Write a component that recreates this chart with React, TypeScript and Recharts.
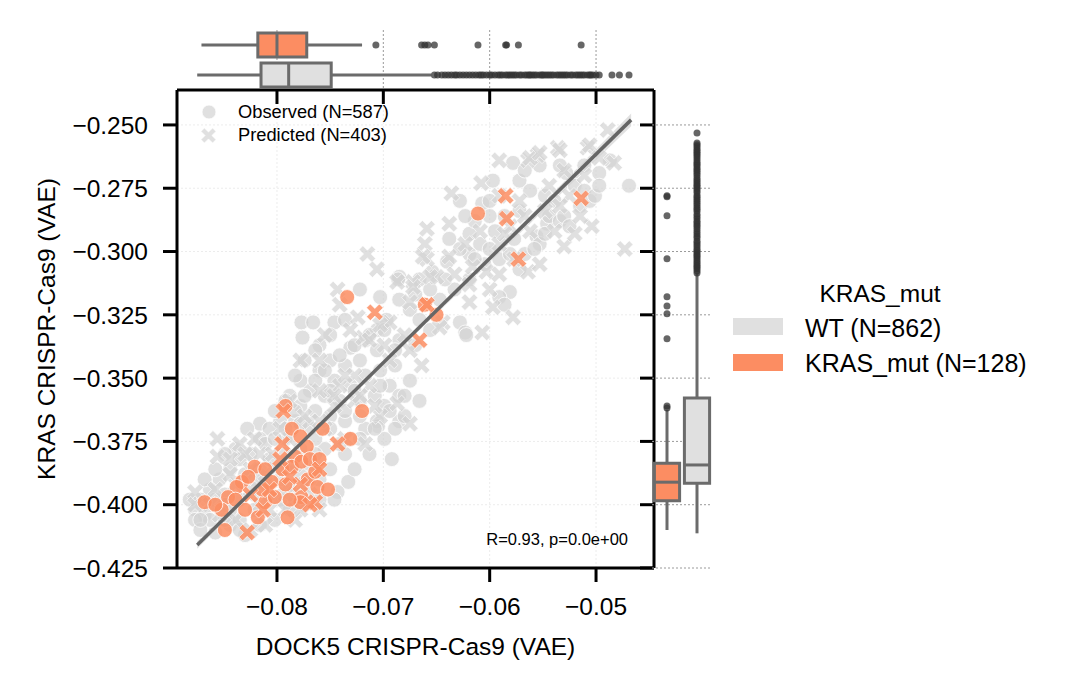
import React from "react";
import {
  ComposedChart,
  Scatter,
  Area,
  XAxis,
  YAxis,
  CartesianGrid,
  ReferenceArea,
  ReferenceLine,
} from "recharts";

const FONT = '"Liberation Sans", Arial, Helvetica, sans-serif';
const GREY = "#d3d3d3";
const ORANGE = "#fc8d62";
const BOX_LINE = "#6b6b6b";
const FS = 24.5;

const xTicks = [-0.08, -0.07, -0.06, -0.05];
const yTicks = [-0.25, -0.275, -0.3, -0.325, -0.35, -0.375, -0.4, -0.425];
const xDomain = [-0.0894, -0.04455];
const yDomain = [-0.425, -0.2362];

// [DOCK5, KRAS] pairs, WT observed
const wtObserved: [number, number][] = [
  [-0.0469, -0.274], [-0.0578, -0.265], [-0.0528, -0.269], [-0.0497, -0.269], [-0.0597, -0.272],
  [-0.0607, -0.281], [-0.06, -0.28], [-0.064, -0.304], [-0.0654, -0.308], [-0.0666, -0.311],
  [-0.0685, -0.31], [-0.0581, -0.316], [-0.0591, -0.318], [-0.0628, -0.328], [-0.0623, -0.332],
  [-0.0546, -0.289], [-0.0544, -0.286], [-0.0534, -0.288], [-0.0556, -0.294], [-0.0553, -0.297],
  [-0.0572, -0.272], [-0.0562, -0.276], [-0.0548, -0.278], [-0.0539, -0.28], [-0.052, -0.274],
  [-0.0511, -0.276], [-0.0572, -0.284], [-0.0586, -0.286], [-0.0595, -0.292], [-0.0577, -0.295],
  [-0.0567, -0.301], [-0.0591, -0.303], [-0.0609, -0.297], [-0.0619, -0.293], [-0.0515, -0.282],
  [-0.0506, -0.28], [-0.0619, -0.311], [-0.0633, -0.315], [-0.0647, -0.319], [-0.0586, -0.321],
  [-0.0572, -0.307], [-0.0534, -0.266], [-0.0553, -0.266], [-0.0567, -0.268], [-0.0487, -0.264],
  [-0.0511, -0.266], [-0.0605, -0.305], [-0.0619, -0.301],
  [-0.0638, -0.295], [-0.0628, -0.299], [-0.0614, -0.303], [-0.06, -0.299], [-0.0581, -0.301],
  [-0.0558, -0.299], [-0.0548, -0.293], [-0.053, -0.286], [-0.0525, -0.29], [-0.0501, -0.278],
  [-0.0497, -0.274], [-0.06, -0.286], [-0.0614, -0.288], [-0.0623, -0.286], [-0.0628, -0.28],
  [-0.0656, -0.315], [-0.0642, -0.311], [-0.067, -0.317],
  [-0.0722, -0.315], [-0.0686, -0.311], [-0.0703, -0.318], [-0.0777, -0.328], [-0.0766, -0.328],
  [-0.0746, -0.328], [-0.0736, -0.327], [-0.0706, -0.331], [-0.0697, -0.327], [-0.0731, -0.338],
  [-0.0776, -0.334], [-0.0706, -0.339], [-0.0622, -0.333], [-0.0706, -0.367], [-0.0705, -0.369],
  [-0.0717, -0.37], [-0.0692, -0.382], [-0.0717, -0.335], [-0.0685, -0.319], [-0.0675, -0.323],
  [-0.0666, -0.327], [-0.0656, -0.331], [-0.0685, -0.335], [-0.067, -0.337], [-0.0722, -0.343],
  [-0.0736, -0.345], [-0.075, -0.343], [-0.076, -0.347], [-0.0746, -0.351], [-0.0731, -0.353],
  [-0.0717, -0.349], [-0.0703, -0.347], [-0.0689, -0.345], [-0.0694, -0.353], [-0.0708, -0.357],
  [-0.0722, -0.359], [-0.0741, -0.359], [-0.0755, -0.357], [-0.0769, -0.355], [-0.0764, -0.363],
  [-0.075, -0.365], [-0.0778, -0.361], [-0.0783, -0.367], [-0.0769, -0.37], [-0.0736, -0.367],
  [-0.0722, -0.365], [-0.0699, -0.361], [-0.0685, -0.357], [-0.0675, -0.351], [-0.0666, -0.359],
  [-0.0685, -0.367], [-0.0733, -0.391], [-0.0743, -0.395], [-0.0746, -0.398], [-0.0727, -0.386],
  [-0.0713, -0.38], [-0.0736, -0.38], [-0.0755, -0.378], [-0.0699, -0.374], [-0.0689, -0.37],
  [-0.068, -0.365], [-0.0778, -0.351], [-0.0788, -0.357], [-0.076, -0.337], [-0.0797, -0.367],
  [-0.0792, -0.359], [-0.0802, -0.363], [-0.0783, -0.349], [-0.0774, -0.343], [-0.0764, -0.339],
  [-0.075, -0.333], [-0.0816, -0.368],
  [-0.0792, -0.37], [-0.0783, -0.363], [-0.0774, -0.357], [-0.0764, -0.351], [-0.0755, -0.347],
  [-0.0741, -0.341], [-0.0727, -0.337], [-0.0713, -0.333], [-0.0699, -0.331], [-0.0689, -0.339],
  [-0.0727, -0.355], [-0.0736, -0.363], [-0.075, -0.37], [-0.0764, -0.374], [-0.0741, -0.376],
  [-0.0722, -0.374], [-0.0708, -0.37], [-0.0694, -0.363], [-0.068, -0.357], [-0.0703, -0.353],
  [-0.075, -0.355], [-0.0778, -0.368], [-0.0792, -0.374], [-0.0807, -0.37], [-0.0816, -0.374],
  [-0.0828, -0.37], [-0.0839, -0.378], [-0.0825, -0.38], [-0.0811, -0.376], [-0.0802, -0.374],
  [-0.0816, -0.386], [-0.083, -0.388], [-0.0844, -0.386], [-0.0854, -0.39], [-0.0863, -0.394],
  [-0.0849, -0.396], [-0.0872, -0.398], [-0.0877, -0.402], [-0.0868, -0.404], [-0.0858, -0.411],
  [-0.0844, -0.408], [-0.0835, -0.406], [-0.0849, -0.4], [-0.0858, -0.398], [-0.0821, -0.396],
  [-0.0811, -0.392], [-0.0797, -0.39], [-0.0788, -0.394], [-0.0778, -0.388], [-0.0769, -0.384],
  [-0.076, -0.39], [-0.0774, -0.4], [-0.0788, -0.402], [-0.0802, -0.406], [-0.0816, -0.408],
  [-0.083, -0.412], [-0.0807, -0.382], [-0.0792, -0.38], [-0.0778, -0.378], [-0.0764, -0.38],
  [-0.0835, -0.398], [-0.0844, -0.402], [-0.0863, -0.406], [-0.0877, -0.406], [-0.0872, -0.41],
  [-0.0821, -0.402], [-0.0797, -0.398], [-0.076, -0.398], [-0.075, -0.386],
  [-0.0868, -0.39], [-0.0858, -0.386], [-0.0835, -0.382], [-0.0849, -0.38], [-0.0821, -0.39],
  [-0.0807, -0.396], [-0.0792, -0.386], [-0.0783, -0.398], [-0.0769, -0.39], [-0.0849, -0.406],
  [-0.0835, -0.41], [-0.0882, -0.398], [-0.0872, -0.406],
];

// WT predicted
const wtPredicted: [number, number][] = [
  [-0.0489, -0.252], [-0.0508, -0.259], [-0.0483, -0.265], [-0.0536, -0.259], [-0.0555, -0.262],
  [-0.0564, -0.264], [-0.0591, -0.264], [-0.0636, -0.277], [-0.0608, -0.273], [-0.0473, -0.299],
  [-0.0504, -0.29], [-0.053, -0.298], [-0.0564, -0.308], [-0.0578, -0.326], [-0.0607, -0.332],
  [-0.0659, -0.291], [-0.0638, -0.289], [-0.0661, -0.297], [-0.0659, -0.303], [-0.0638, -0.302],
  [-0.0616, -0.306], [-0.0603, -0.308], [-0.0672, -0.312], [-0.065, -0.31], [-0.0675, -0.32],
  [-0.06, -0.315], [-0.0619, -0.32], [-0.0597, -0.322], [-0.0644, -0.328], [-0.0562, -0.263],
  [-0.0553, -0.261], [-0.0534, -0.26], [-0.0506, -0.258], [-0.0497, -0.263], [-0.0591, -0.278],
  [-0.0572, -0.28], [-0.0544, -0.274], [-0.0525, -0.278], [-0.0515, -0.286], [-0.0548, -0.284],
  [-0.0581, -0.29], [-0.0562, -0.292], [-0.0539, -0.292], [-0.052, -0.293], [-0.0591, -0.297],
  [-0.0577, -0.303], [-0.0553, -0.305], [-0.0623, -0.297], [-0.0633, -0.309],
  [-0.0609, -0.292], [-0.0586, -0.293], [-0.0567, -0.286], [-0.0534, -0.282], [-0.0511, -0.27],
  [-0.053, -0.268], [-0.0619, -0.313], [-0.0591, -0.309],
  [-0.0715, -0.301], [-0.0706, -0.307], [-0.0743, -0.315], [-0.0687, -0.312], [-0.0672, -0.314],
  [-0.0656, -0.31], [-0.0663, -0.302], [-0.0724, -0.326], [-0.0719, -0.334], [-0.0694, -0.328],
  [-0.0675, -0.339], [-0.0664, -0.345], [-0.0687, -0.36], [-0.0647, -0.33], [-0.0741, -0.321],
  [-0.0731, -0.331], [-0.0755, -0.333], [-0.0713, -0.335], [-0.0699, -0.337], [-0.0727, -0.349],
  [-0.0741, -0.353], [-0.0713, -0.353], [-0.076, -0.355], [-0.0746, -0.361], [-0.0727, -0.359],
  [-0.0703, -0.365], [-0.0769, -0.367], [-0.0755, -0.37], [-0.0736, -0.374], [-0.0717, -0.376],
  [-0.0675, -0.368], [-0.0788, -0.374],
  [-0.0778, -0.343], [-0.076, -0.343], [-0.0736, -0.349], [-0.0722, -0.357], [-0.0708, -0.361],
  [-0.0788, -0.359], [-0.0774, -0.365], [-0.076, -0.367], [-0.0746, -0.357], [-0.0694, -0.343],
  [-0.068, -0.333], [-0.0703, -0.329],
  [-0.0856, -0.374], [-0.0856, -0.381], [-0.0877, -0.395], [-0.0844, -0.382], [-0.0835, -0.376],
  [-0.0821, -0.374], [-0.0816, -0.38], [-0.0797, -0.37], [-0.0839, -0.392], [-0.0825, -0.394],
  [-0.0811, -0.388], [-0.0802, -0.386], [-0.0783, -0.384], [-0.0774, -0.392], [-0.0792, -0.396],
  [-0.0854, -0.404], [-0.0839, -0.406], [-0.0825, -0.41], [-0.0816, -0.4], [-0.0807, -0.402],
  [-0.0783, -0.406], [-0.0769, -0.396], [-0.076, -0.402], [-0.0877, -0.4], [-0.0863, -0.4],
  [-0.0804, -0.38], [-0.083, -0.38], [-0.0844, -0.388], [-0.0858, -0.394], [-0.0825, -0.386],
  [-0.0792, -0.402], [-0.0811, -0.408], [-0.0778, -0.402],
];

// KRAS_mut observed
const mutObserved: [number, number][] = [
  [-0.0611, -0.285], [-0.0734, -0.318], [-0.0661, -0.321], [-0.065, -0.325], [-0.072, -0.363],
  [-0.0792, -0.361], [-0.0786, -0.37], [-0.0778, -0.373], [-0.0757, -0.37], [-0.0731, -0.374],
  [-0.0772, -0.377], [-0.0783, -0.381], [-0.0821, -0.385], [-0.0833, -0.391], [-0.0838, -0.393],
  [-0.0846, -0.397], [-0.0868, -0.399], [-0.0852, -0.402], [-0.0849, -0.41], [-0.083, -0.402],
  [-0.0811, -0.399], [-0.0802, -0.397], [-0.079, -0.405], [-0.0777, -0.397], [-0.0771, -0.39],
  [-0.0764, -0.387], [-0.0762, -0.393], [-0.0752, -0.394], [-0.0778, -0.399], [-0.0805, -0.391],
  [-0.0795, -0.386], [-0.0786, -0.385], [-0.0777, -0.383], [-0.0818, -0.405], [-0.0827, -0.389],
  [-0.0814, -0.394], [-0.0792, -0.392], [-0.0769, -0.382], [-0.076, -0.382], [-0.0839, -0.398],
  [-0.0858, -0.4], [-0.0788, -0.398], [-0.0811, -0.386],
];

// KRAS_mut predicted
const mutPredicted: [number, number][] = [
  [-0.0585, -0.278], [-0.0584, -0.287], [-0.0514, -0.279], [-0.0573, -0.303], [-0.0708, -0.324],
  [-0.0659, -0.321], [-0.0666, -0.335], [-0.0794, -0.363], [-0.0743, -0.376], [-0.0828, -0.411],
  [-0.0764, -0.399], [-0.0795, -0.376], [-0.0813, -0.402], [-0.0797, -0.382], [-0.0778, -0.392],
  [-0.076, -0.386], [-0.0825, -0.396], [-0.0788, -0.389], [-0.0807, -0.394], [-0.0769, -0.4],
];

const regLine = [
  { x: -0.0875, y: -0.4159 },
  { x: -0.0467, y: -0.248 },
];

const ciBand = [
  { x: -0.0875, band: [-0.4174, -0.4144] },
  { x: -0.075, band: [-0.3653, -0.3639] },
  { x: -0.06, band: [-0.3043, -0.3019] },
  { x: -0.0467, band: [-0.2505, -0.2455] },
];

// box stats: whisker low, q1, median, q3, whisker high
const xBoxWT = [-0.0875, -0.0815, -0.0789, -0.0749, -0.0655];
const xBoxMut = [-0.0871, -0.0818, -0.08, -0.0772, -0.072];
const yBoxWT = [-0.4113, -0.3915, -0.3843, -0.3579, -0.3086];
const yBoxMut = [-0.41, -0.3984, -0.3911, -0.3836, -0.3626];

const xOutWT = [
  -0.0652, -0.0649, -0.0645, -0.0642, -0.0639, -0.0636, -0.0633, -0.0631, -0.0628, -0.0625,
  -0.0622, -0.0619, -0.0616, -0.0613, -0.061, -0.0608, -0.0606, -0.0603, -0.06, -0.0598,
  -0.0595, -0.0592, -0.059, -0.0588, -0.0585, -0.0583, -0.0581, -0.0579, -0.0577, -0.0575,
  -0.0572, -0.057, -0.0567, -0.0565, -0.0563, -0.0562, -0.056, -0.0558, -0.0556, -0.0553,
  -0.0551, -0.055, -0.0548, -0.0546, -0.0544, -0.0542, -0.054, -0.0537, -0.0535, -0.0533,
  -0.0531, -0.0529, -0.0527, -0.0524, -0.0522, -0.0519, -0.0517, -0.0515, -0.0513, -0.0511,
  -0.0508, -0.0506, -0.0505, -0.0503, -0.05, -0.0497, -0.0485, -0.0478, -0.0469,
];
const xOutMut = [-0.0707, -0.0664, -0.0661, -0.0658, -0.0652, -0.0611, -0.0585, -0.0584, -0.0573, -0.0514];
const yOutWT = [
  -0.2532, -0.2571, -0.2578, -0.2585, -0.2594, -0.2601, -0.2608, -0.2615, -0.2622, -0.263,
  -0.2638, -0.2647, -0.2654, -0.266, -0.2669, -0.2676, -0.2683, -0.2691, -0.2699, -0.2709,
  -0.2716, -0.2723, -0.2731, -0.2738, -0.2744, -0.2752, -0.276, -0.2768, -0.2779, -0.2786,
  -0.2794, -0.2801, -0.2809, -0.2817, -0.2826, -0.2833, -0.2841, -0.2853, -0.2862, -0.2871,
  -0.288, -0.2887, -0.2895, -0.2902, -0.2911, -0.2921, -0.293, -0.2939, -0.2947, -0.2958,
  -0.2965, -0.2973, -0.2981, -0.299, -0.2997, -0.3004, -0.3012, -0.3018, -0.3025, -0.3032,
  -0.304, -0.3047, -0.3055, -0.3061, -0.3068, -0.3076, -0.3085,
];
const yOutMut = [-0.361, -0.3618, -0.3345, -0.3246, -0.3215, -0.3179, -0.3029, -0.2859, -0.2784, -0.278];

const fmt = (d: number) => (v: number) => (v < 0 ? "\u2212" : "") + Math.abs(v).toFixed(d);
const toPts = (arr: [number, number][]) => arr.map(([x, y]) => ({ x, y }));

const circleShape = (fill: string, opacity: number, r = 7.5) => (p: any) => (
  <circle cx={p.cx} cy={p.cy} r={r} fill={fill} fillOpacity={opacity} stroke="#fff" strokeWidth={0.8} />
);

function xPolygon(cx: number, cy: number, half = 8.3, arm = 2.7) {
  const L = half * Math.SQRT2 - arm;
  const raw = [
    [arm, L], [arm, arm], [L, arm], [L, -arm], [arm, -arm], [arm, -L],
    [-arm, -L], [-arm, -arm], [-L, -arm], [-L, arm], [-arm, arm], [-arm, L],
  ];
  return raw.map(([a, b]) => `${cx + (a - b) / Math.SQRT2},${cy + (a + b) / Math.SQRT2}`).join(" ");
}

const crossShape = (fill: string, opacity: number) => (p: any) => (
  <polygon points={xPolygon(p.cx, p.cy)} fill={fill} fillOpacity={opacity} stroke="#fff" strokeWidth={0.6} />
);

const outlierDot = (p: any) => <circle cx={p.cx} cy={p.cy} r={3.5} fill="#333" fillOpacity={0.75} />;

// horizontal box (top margin), c = row centre
function hBox(s: number[], c: number, fill: string, key: string) {
  const line = { stroke: BOX_LINE, strokeWidth: 3, ifOverflow: "visible" as const };
  return [
    <ReferenceLine key={key + "wl"} segment={[{ x: s[0], y: c }, { x: s[1], y: c }]} {...line} />,
    <ReferenceLine key={key + "wh"} segment={[{ x: s[3], y: c }, { x: s[4], y: c }]} {...line} />,
    <ReferenceArea key={key + "b"} x1={s[1]} x2={s[3]} y1={c - 0.4} y2={c + 0.4} fill={fill} fillOpacity={1} {...line} />,
    <ReferenceLine key={key + "m"} segment={[{ x: s[2], y: c - 0.4 }, { x: s[2], y: c + 0.4 }]} {...line} />,
  ];
}

// vertical box (right margin), c = column centre
function vBox(s: number[], c: number, fill: string, key: string) {
  const line = { stroke: BOX_LINE, strokeWidth: 3, ifOverflow: "visible" as const };
  return [
    <ReferenceLine key={key + "wl"} segment={[{ x: c, y: s[0] }, { x: c, y: s[1] }]} {...line} />,
    <ReferenceLine key={key + "wh"} segment={[{ x: c, y: s[3] }, { x: c, y: s[4] }]} {...line} />,
    <ReferenceArea key={key + "b"} x1={c - 0.42} x2={c + 0.42} y1={s[1]} y2={s[3]} fill={fill} fillOpacity={1} {...line} />,
    <ReferenceLine key={key + "m"} segment={[{ x: c - 0.42, y: s[2] }, { x: c + 0.42, y: s[2] }]} {...line} />,
  ];
}

const axisLine = { stroke: "#000", strokeWidth: 3 };
const tickStyle = { fill: "#000", fontSize: FS, fontFamily: FONT };
const blank = () => "";

function MainPlot() {
  return (
    <ComposedChart width={1066} height={691} data={ciBand} margin={{ top: 90, right: 412, bottom: 33, left: 27 }}>
      <CartesianGrid xAxisId="b" yAxisId="l" syncWithTicks stroke="#ececec" strokeDasharray="2 2" strokeWidth={1} />
      <XAxis
        xAxisId="b"
        type="number"
        dataKey="x"
        domain={xDomain}
        ticks={xTicks}
        allowDataOverflow
        interval={0}
        tickFormatter={fmt(2)}
        tickSize={14}
        tickMargin={16}
        height={90}
        axisLine={axisLine}
        tickLine={axisLine}
        tick={tickStyle}
        label={{ value: "DOCK5 CRISPR-Cas9 (VAE)", position: "insideBottom", offset: 3, fill: "#000", fontSize: FS, fontFamily: FONT }}
      />
      <XAxis
        xAxisId="t"
        orientation="top"
        mirror
        type="number"
        dataKey="x"
        domain={xDomain}
        ticks={xTicks}
        allowDataOverflow
        interval={0}
        tickFormatter={blank}
        tickSize={14}
        height={1}
        axisLine={axisLine}
        tickLine={axisLine}
      />
      <YAxis
        yAxisId="l"
        type="number"
        dataKey="y"
        domain={yDomain}
        ticks={yTicks}
        allowDataOverflow
        interval={0}
        tickFormatter={fmt(3)}
        tickSize={14}
        tickMargin={15}
        width={150}
        axisLine={axisLine}
        tickLine={axisLine}
        tick={tickStyle}
        label={{ value: "KRAS CRISPR-Cas9 (VAE)", angle: -90, position: "insideLeft", offset: 19, fill: "#000", fontSize: FS, fontFamily: FONT, style: { textAnchor: "middle" } }}
      />
      <YAxis
        yAxisId="r"
        orientation="right"
        mirror
        type="number"
        dataKey="y"
        domain={yDomain}
        ticks={yTicks}
        allowDataOverflow
        interval={0}
        tickFormatter={blank}
        tickSize={14}
        width={1}
        axisLine={axisLine}
        tickLine={axisLine}
      />
      <Area xAxisId="b" yAxisId="l" dataKey="band" type="monotone" stroke="none" fill="#bdbdbd" fillOpacity={0.45} isAnimationActive={false} />
      <Scatter xAxisId="b" yAxisId="l" data={toPts(wtObserved)} shape={circleShape(GREY, 0.7)} isAnimationActive={false} />
      <Scatter xAxisId="b" yAxisId="l" data={toPts(wtPredicted)} shape={crossShape(GREY, 0.7)} isAnimationActive={false} />
      <Scatter xAxisId="b" yAxisId="l" data={toPts(mutObserved)} shape={circleShape(ORANGE, 0.85)} isAnimationActive={false} />
      <Scatter xAxisId="b" yAxisId="l" data={toPts(mutPredicted)} shape={crossShape(ORANGE, 0.85)} isAnimationActive={false} />
      <Scatter
        xAxisId="b"
        yAxisId="l"
        data={regLine}
        line={{ stroke: "#666", strokeWidth: 3.5 }}
        shape={() => <g />}
        isAnimationActive={false}
      />
    </ComposedChart>
  );
}

function TopMargin() {
  return (
    <ComposedChart width={1066} height={100} margin={{ top: 30, right: 412, bottom: 8, left: 175 }}>
      <CartesianGrid horizontal={false} syncWithTicks stroke="#9a9a9a" strokeDasharray="2 2" strokeWidth={1} />
      <XAxis type="number" dataKey="x" domain={xDomain} ticks={xTicks} allowDataOverflow interval={0} height={2} axisLine={false} tickLine={false} tickFormatter={blank} />
      <YAxis type="number" dataKey="y" domain={[0, 2]} ticks={[]} width={2} axisLine={false} tickLine={false} tickFormatter={blank} />
      {hBox(xBoxMut, 1.5, ORANGE, "tm")}
      {hBox(xBoxWT, 0.5, "#e0e0e0", "tw")}
      <Scatter data={xOutMut.map((x) => ({ x, y: 1.5 }))} shape={outlierDot} isAnimationActive={false} />
      <Scatter data={xOutWT.map((x) => ({ x, y: 0.5 }))} shape={outlierDot} isAnimationActive={false} />
    </ComposedChart>
  );
}

function RightMargin() {
  return (
    <ComposedChart width={720} height={691} margin={{ top: 90, right: 8, bottom: 121, left: 650 }}>
      <CartesianGrid vertical={false} syncWithTicks stroke="#9a9a9a" strokeDasharray="2 2" strokeWidth={1} />
      <XAxis type="number" dataKey="x" domain={[0, 2]} ticks={[]} height={2} axisLine={false} tickLine={false} tickFormatter={blank} />
      <YAxis type="number" dataKey="y" domain={yDomain} ticks={yTicks} allowDataOverflow interval={0} width={2} axisLine={false} tickLine={false} tickFormatter={blank} />
      {vBox(yBoxMut, 0.5, ORANGE, "rm")}
      {vBox(yBoxWT, 1.5, "#e0e0e0", "rw")}
      <Scatter data={yOutMut.map((y) => ({ x: 0.5, y }))} shape={outlierDot} isAnimationActive={false} />
      <Scatter data={yOutWT.map((y) => ({ x: 1.5, y }))} shape={outlierDot} isAnimationActive={false} />
    </ComposedChart>
  );
}

function Legends() {
  return (
    <svg width={1066} height={691} style={{ position: "absolute", left: 0, top: 0, pointerEvents: "none" }}>
      <circle cx={209} cy={112} r={7} fill={GREY} fillOpacity={0.7} stroke="#fff" strokeWidth={0.8} />
      <polygon points={xPolygon(208.5, 135.5, 7.5, 2.4)} fill={GREY} fillOpacity={0.7} stroke="#fff" strokeWidth={0.6} />
      <text x={238} y={118} fontSize={18.3} fontFamily={FONT} fill="#000">Observed (N=587)</text>
      <text x={238} y={141} fontSize={18.3} fontFamily={FONT} fill="#000">Predicted (N=403)</text>
      <text x={628} y={545} fontSize={16.5} fontFamily={FONT} fill="#000" textAnchor="end">R=0.93, p=0.0e+00</text>

      <text x={880} y={302} fontSize={FS} fontFamily={FONT} fill="#000" textAnchor="middle">KRAS_mut</text>
      <rect x={733} y={318} width={50} height={17} fill="#e0e0e0" />
      <text x={805} y={337} fontSize={25} fontFamily={FONT} fill="#000">WT (N=862)</text>
      <rect x={733} y={354} width={50} height={17} fill={ORANGE} />
      <text x={805} y={372} fontSize={25} fontFamily={FONT} fill="#000">KRAS_mut (N=128)</text>
    </svg>
  );
}

export default function App() {
  const layer: React.CSSProperties = { position: "absolute", left: 0, top: 0 };
  return (
    <div style={{ position: "absolute", left: 0, top: 0, width: 1066, height: 691, background: "#fff", fontFamily: FONT }}>
      <div style={layer}>
        <MainPlot />
      </div>
      <div style={layer}>
        <TopMargin />
      </div>
      <div style={layer}>
        <RightMargin />
      </div>
      <Legends />
    </div>
  );
}
